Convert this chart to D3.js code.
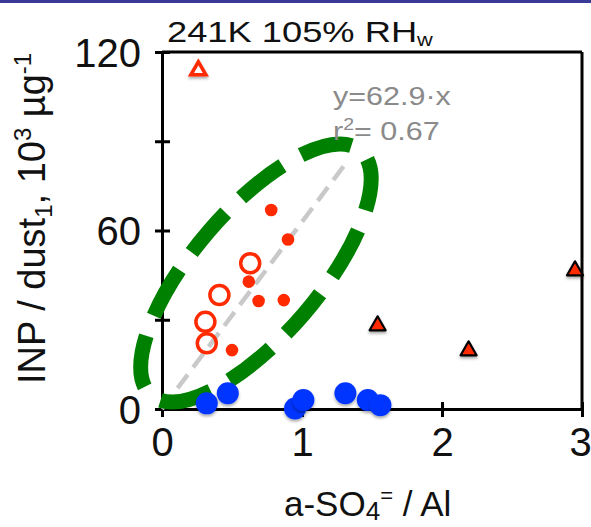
<!DOCTYPE html>
<html>
<head>
<meta charset="utf-8">
<script src="https://cdn.jsdelivr.net/npm/d3@7"></script>
<style>
  html, body { margin: 0; padding: 0; background: #ffffff; }
  svg { display: block; font-family: "Liberation Sans", Arial, Helvetica, sans-serif; }
</style>
</head>
<body>
<svg id="chart" width="591" height="527"></svg>
<script>
// ---- data (a-SO4 / Al  vs  INP / dust, 10^3 ug^-1) ----
const redFilled = [[0.78, 66.9], [0.90, 57.0], [0.62, 42.8], [0.69, 36.3], [0.87, 36.6], [0.50, 19.8]];
const redOpen   = [[0.63, 49.0], [0.41, 38.3], [0.31, 29.3], [0.32, 22.1]];
const openTri   = [[0.26, 114.5]];
const filledTri = [[1.54, 28.8], [2.19, 20.4], [2.95, 47.3]];
const blueDots  = [[0.32, 1.9], [0.47, 5.3], [0.95, 0.2], [1.01, 3.0], [1.31, 5.3], [1.47, 3.0], [1.56, 1.3]];

const fitSlope = 62.9;
const fitR2 = 0.67;
const fitXEnd = 1.3;
const clusterCenter = [0.671, 45.7];

const xTicks = [0, 1, 2, 3];
const yTicks = [0, 30, 60, 90, 120];
const yTickLabels = [0, 60, 120];

const RED = "#ff2a00", BLUE = "#0636ff", GREEN = "#008000";

const svg = d3.select("#chart");

// header band
svg.append("rect").attr("x", 0).attr("y", 0).attr("width", 591).attr("height", 3).attr("fill", "#3a3a98");

const x = d3.scaleLinear().domain([0, 3]).range([162, 582]);
const y = d3.scaleLinear().domain([0, 120]).range([409, 52]);

const defs = svg.append("defs");
const f = defs.append("filter").attr("id", "shadow").attr("x", "-50%").attr("y", "-50%").attr("width", "200%").attr("height", "200%");
f.append("feDropShadow").attr("dx", 0).attr("dy", 2).attr("stdDeviation", 1.4)
  .attr("flood-color", "#000").attr("flood-opacity", 0.35);

// frame (top + right)
svg.append("line").attr("x1", x(0)).attr("x2", x(3)).attr("y1", y(120)).attr("y2", y(120))
  .attr("stroke", "#000").attr("stroke-width", 3);
svg.append("line").attr("x1", x(3)).attr("x2", x(3)).attr("y1", y(120)).attr("y2", y(0))
  .attr("stroke", "#000").attr("stroke-width", 3);

// axes
const yAxis = svg.append("g").attr("transform", `translate(${x(0)},0)`)
  .call(d3.axisLeft(y).tickValues(yTicks).tickSize(7).tickSizeOuter(0)
    .tickFormat(d => yTickLabels.includes(d) ? d : ""));
yAxis.select(".domain").attr("stroke-width", 3);
yAxis.selectAll(".tick line").attr("x1", 8).attr("stroke-width", 3);
yAxis.selectAll(".tick text").attr("font-size", 40).attr("x", -21).attr("dy", "0.36em")
  .attr("fill", "#111").attr("font-family", "Liberation Sans, Arial, sans-serif");

const xAxis = svg.append("g").attr("transform", `translate(0,${y(0)})`)
  .call(d3.axisBottom(x).tickValues(xTicks).tickSize(8).tickSizeOuter(0).tickFormat(d3.format("d")));
xAxis.select(".domain").attr("stroke-width", 3);
xAxis.selectAll(".tick line").attr("y1", -7).attr("stroke-width", 3);
xAxis.selectAll(".tick text").attr("font-size", 40).attr("y", 47).attr("dy", 0)
  .attr("dx", d => d === 3 ? -2 : 0)
  .attr("fill", "#111").attr("font-family", "Liberation Sans, Arial, sans-serif");

// regression line y = 62.9 x
svg.append("line")
  .attr("x1", x(0)).attr("y1", y(0))
  .attr("x2", x(fitXEnd)).attr("y2", y(fitSlope * fitXEnd))
  .attr("stroke", "#c9c9c9").attr("stroke-width", 4.5).attr("stroke-dasharray", "17 9");

// red filled circles
svg.append("g").selectAll("circle").data(redFilled).join("circle")
  .attr("cx", d => x(d[0])).attr("cy", d => y(d[1])).attr("r", 6.3)
  .attr("fill", RED);

// red open circles
svg.append("g").selectAll("circle").data(redOpen).join("circle")
  .attr("cx", d => x(d[0])).attr("cy", d => y(d[1])).attr("r", 9.5)
  .attr("fill", "none").attr("stroke", RED).attr("stroke-width", 3.5);

// triangles
const tri = (w, h) => `M0,${-h / 2}L${w / 2},${h / 2}L${-w / 2},${h / 2}Z`;
svg.append("g").selectAll("path").data(openTri).join("path")
  .attr("d", tri(15, 13))
  .attr("transform", d => `translate(${x(d[0])},${y(d[1])})`)
  .attr("fill", "#fff").attr("stroke", RED).attr("stroke-width", 3.5)
  .attr("filter", "url(#shadow)");
svg.append("g").selectAll("path").data(filledTri).join("path")
  .attr("d", tri(16, 14))
  .attr("transform", d => `translate(${x(d[0])},${y(d[1])})`)
  .attr("fill", RED).attr("stroke", "#000").attr("stroke-width", 2.2)
  .attr("stroke-linejoin", "round")
  .attr("filter", "url(#shadow)");

// cluster outline
const ell = svg.append("ellipse")
  .attr("rx", 161).attr("ry", 63)
  .attr("transform", `translate(${x(clusterCenter[0])},${y(clusterCenter[1])}) rotate(-49.4)`)
  .attr("fill", "none").attr("stroke", GREEN).attr("stroke-width", 15);
const L = ell.node().getTotalLength();
const period = L / 10;
ell.attr("stroke-dasharray", `${period * 0.71} ${period * 0.29}`)
   .attr("stroke-dashoffset", period * 0.71 + period * 0.145);

// blue circles
svg.append("g").selectAll("circle").data(blueDots).join("circle")
  .attr("cx", d => x(d[0])).attr("cy", d => y(d[1])).attr("r", 11)
  .attr("fill", BLUE).attr("filter", "url(#shadow)");

// fit annotation
const ann = svg.append("g").attr("fill", "#8a8a8a").attr("font-size", 25);
ann.append("text").attr("transform", "translate(333,105) scale(1.22,1)").text("y=62.9·x");
const r2 = ann.append("text").attr("transform", "translate(333,140) scale(1.22,1)");
r2.append("tspan").text("r");
r2.append("tspan").attr("font-size", 16).attr("dy", -10).text("2");
r2.append("tspan").attr("dy", 10).text("= " + fitR2.toFixed(2));

// title
const title = svg.append("text").attr("transform", "translate(167,41.7) scale(1.21,1)")
  .attr("font-size", 30).attr("fill", "#111");
title.append("tspan").text("241K 105% RH");
title.append("tspan").attr("font-size", 18).attr("dy", 4).text("w");

// x label
const xl = svg.append("text").attr("x", 284).attr("y", 516).attr("font-size", 35).attr("fill", "#111");
xl.append("tspan").text("a-SO");
xl.append("tspan").attr("font-size", 26).attr("dy", 4).text("4");
xl.append("tspan").attr("font-size", 22).attr("dy", -17).text("=");
xl.append("tspan").attr("dy", 13).text(" / Al");

// y label
const yl = svg.append("text").attr("transform", "translate(45,384) rotate(-90)")
  .attr("font-size", 38).attr("fill", "#111");
yl.append("tspan").text("INP / dust");
yl.append("tspan").attr("font-size", 24).attr("dy", 7).text("1");
yl.append("tspan").attr("dy", -7).text(", 10");
yl.append("tspan").attr("font-size", 24).attr("dy", -14).text("3");
yl.append("tspan").attr("dy", 14).text(" µg");
yl.append("tspan").attr("font-size", 24).attr("dy", -14).text("-1");
</script>
</body>
</html>
